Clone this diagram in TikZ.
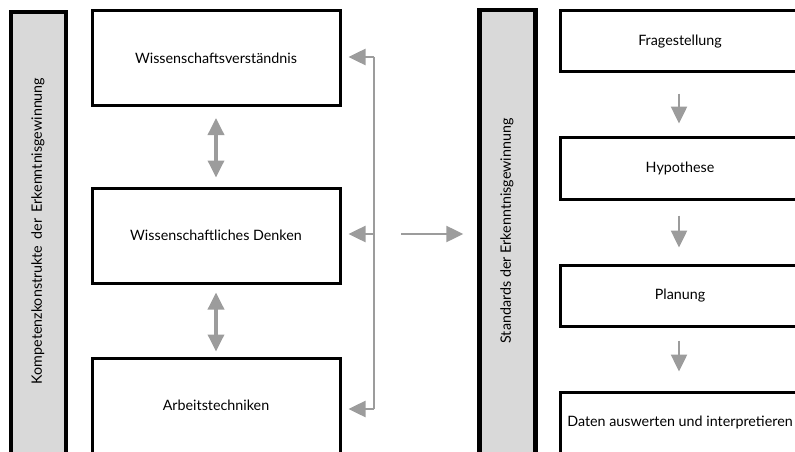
\documentclass[tikz,border=0pt]{standalone}
\usepackage{fontspec}
\setmainfont{Lato}
\usetikzlibrary{arrows.meta}
\definecolor{arrgray}{HTML}{9C9C9C}
\definecolor{barfill}{HTML}{D9D9D9}
\tikzset{
  box/.style={draw=black, line width=3pt, fill=white, inner sep=0pt, font=\fontsize{14.3}{17}\selectfont},
  bar/.style={draw=black, line width=4.5pt, fill=barfill, inner sep=0pt},
  bartext/.style={rotate=90, font=\fontsize{14.3}{17}\selectfont, inner sep=0pt},
  garrow/.style={draw=arrgray, line width=2.5pt, -{Triangle[length=17pt,width=16pt]}},
  gdouble/.style={draw=arrgray, line width=3.5pt, {Triangle[length=17pt,width=16pt]}-{Triangle[length=17pt,width=16pt]}},
  gline/.style={draw=arrgray, line width=2.5pt}
}
\begin{document}
\begin{tikzpicture}[x=1pt,y=-1pt]
\useasboundingbox (0,0) rectangle (795,452);
\clip (0,0) rectangle (795,452);
% left bar
\node[bar, minimum width=55pt, minimum height=470pt] (lbar) at (38.5,247) {};
\node[bartext] (ltext) at (38,231) {Kompetenzkonstrukte\, der\, Erkenntnisgewinnung};
% left boxes
\node[box, minimum width=248pt, minimum height=95pt] (b1) at (216,58) {Wissenschaftsverständnis};
\node[box, minimum width=248pt, minimum height=95pt] (b2) at (216,235.5) {Wissenschaftliches Denken};
\node[box, minimum width=248pt, minimum height=95pt] (b3) at (216,405.5) {Arbeitstechniken};
% double arrows
\draw[gdouble, shorten <=11pt, shorten >=9pt] (b1.south) -- (b2.north);
\draw[gdouble, shorten <=8pt, shorten >=5pt] (b2.south) -- (b3.north);
% bracket
\coordinate (br1) at (374,57);
\coordinate (br2) at (374,234);
\coordinate (br3) at (374,409);
\draw[gline] (br1) -- (br3);
\draw[garrow, shorten >=7pt] (br1) -- (br1 -| b1.east);
\draw[garrow, shorten >=7pt] (br2) -- (br2 -| b2.east);
\draw[garrow, shorten >=7pt] (br3) -- (br3 -| b3.east);
% middle arrow
\node[bar, minimum width=56pt, minimum height=470pt] (rbar) at (507.5,245) {};
\node[bartext] (rtext) at (507,231) {Standards der Erkenntnisgewinnung};
\coordinate (m1) at (401,234);
\draw[garrow, shorten >=14pt] (m1) -- (m1 -| rbar.west);
% right boxes
\node[box, minimum width=240pt, minimum height=61pt] (f) at (680,41.5) {Fragestellung};
\node[box, minimum width=240pt, minimum height=62pt] (h) at (680,168) {Hypothese};
\node[box, minimum width=240pt, minimum height=61pt] (p) at (680,295.5) {Planung};
\node[box, minimum width=240pt, minimum height=61pt] (d) at (680,422.5) {Daten auswerten und interpretieren};
\draw[garrow, shorten <=20pt, shorten >=12pt] (f.south -| 679,0) -- (h.north -| 679,0);
\draw[garrow, shorten <=15pt, shorten >=16pt] (h.south -| 679,0) -- (p.north -| 679,0);
\draw[garrow, shorten <=13pt, shorten >=19pt] (p.south -| 679,0) -- (d.north -| 679,0);
\end{tikzpicture}
\end{document}
